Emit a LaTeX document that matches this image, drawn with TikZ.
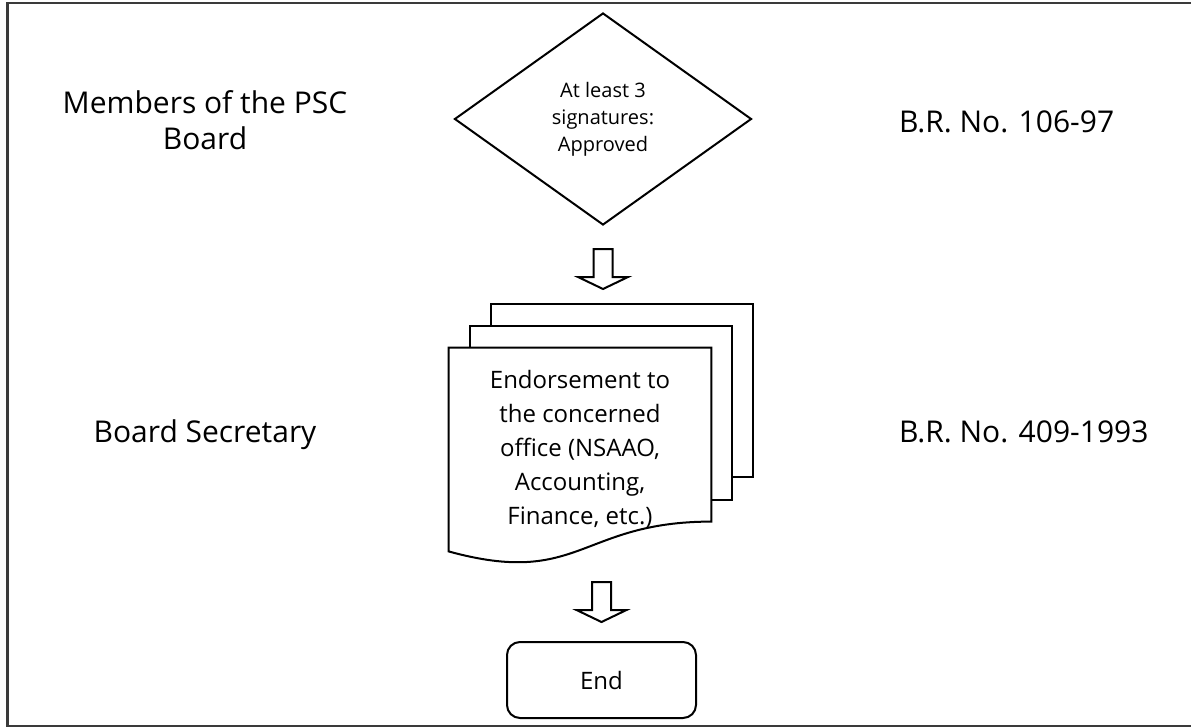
\documentclass[tikz,border=0pt]{standalone}
\usepackage{fontspec}
\setmainfont{Open Sans}
\usepackage{tikz}
\usetikzlibrary{shapes.geometric, calc}
\definecolor{frameGray}{HTML}{3A3A3A}

\begin{document}
\begin{tikzpicture}[x=0.5pt, y=-0.5pt,
    lbl/.style={font=\fontsize{15}{18}\selectfont, align=center},
    shp/.style={draw, line width=1pt},
    blockdown/.pic={\draw[shp] (0,0) -- (-25,-12) -- (-9.5,-12) -- (-9.5,-40) -- (9.5,-40) -- (9.5,-12) -- (25,-12) -- cycle;}]
  \useasboundingbox (0,0) rectangle (1191,728);
  % frame, its right side is off the page
  \draw[frameGray, line width=1.2pt] (1191,3) -- (7.5,3) -- (7.5,726) -- (1191,726);
  % lane labels
  \node[lbl] (psc) at (205,120) {Members of the PSC\\Board};
  \node[lbl, anchor=base] (sec) at (205,442) {Board Secretary};
  \node[lbl, anchor=base west] (br1) at (892,133) {B.R. No. 106-97};
  \node[lbl, anchor=base west] (br2) at (892,442) {B.R. No. 409-1993};
  % decision
  \node[shp, diamond, minimum width=148.5pt, minimum height=106pt, inner sep=0pt, align=center,
        font=\fontsize{10}{13.5}\selectfont] (dia) at (603,119) {At least 3\\signatures:\\Approved};
  % document stack
  \node[minimum width=131pt, minimum height=101.5pt, inner sep=0pt, align=center,
        font=\fontsize{12}{17}\selectfont] (doc) at (580,449.5)
        {Endorsement to\\the concerned\\office (NSAAO,\\Accounting,\\Finance, etc.)};
  \draw[shp] (doc.north west) -- (doc.north east) -- ($(doc.north east)+(0,174)$)
    .. controls ($(doc.north)+(0,174)$) and ($(doc.north)+(0,240)$) .. (doc.south west) -- cycle;
  \draw[shp] ($(doc.north west)+(21,0)$) -- ($(doc.north west)+(21,-22)$) -- ($(doc.north east)+(21,-22)$)
    -- ($(doc.north east)+(21,152)$) -- ($(doc.north east)+(0,152)$);
  \draw[shp] ($(doc.north west)+(42,-22)$) -- ($(doc.north west)+(42,-44)$) -- ($(doc.north east)+(42,-44)$)
    -- ($(doc.north east)+(42,129)$) -- ($(doc.north east)+(21,129)$);
  % end
  \node[shp, rounded corners=6.5pt, minimum width=94.5pt, minimum height=38pt,
        font=\fontsize{12}{14}\selectfont] (endbox) at (601.5,680) {End};
  % arrows
  \pic at ($(dia.south)+(0,63)$) {blockdown};
  \pic at ($(endbox.north)+(0,-19)$) {blockdown};
\end{tikzpicture}
\end{document}
